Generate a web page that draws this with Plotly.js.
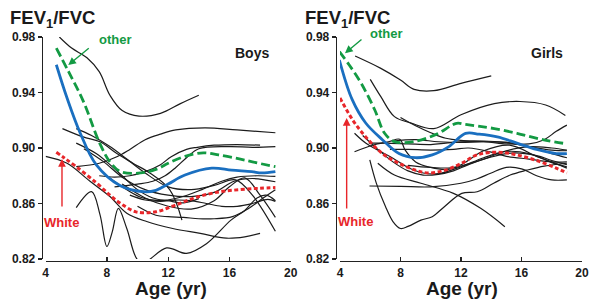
<!DOCTYPE html>
<html><head><meta charset="utf-8">
<script src="https://cdn.plot.ly/plotly-3.0.1.min.js"></script>
<style>html,body{margin:0;padding:0;background:#fff}#chart{width:591px;height:302px}</style>
</head><body><div id="chart"></div>
<script>
// ---------- Boys ----------
const boysBlueAge = [4.7,5.4,6.25,7.3,8.85,10.4,11.2,12,13.1,14.85,16.15,17.45,18.1,19];
const boysBlueVal = [0.960,0.936,0.911,0.888,0.873,0.8685,0.8695,0.874,0.8805,0.8855,0.884,0.883,0.882,0.883];
const boysGreenAge = [4.7,5.5,6.45,7.55,8.2,8.9,10.2,11.3,12,13.1,14.3,15.3,16.5,17.5,19];
const boysGreenVal = [0.972,0.955,0.934,0.903,0.890,0.883,0.882,0.885,0.889,0.894,0.8965,0.895,0.8925,0.890,0.8865];
const boysRedAge = [4.7,5.2,6,7.3,8.2,8.9,9.9,11.2,12.5,14,15.4,16.7,18,19];
const boysRedVal = [0.897,0.893,0.8865,0.875,0.866,0.860,0.854,0.854,0.859,0.865,0.8685,0.870,0.871,0.8715];

const boysB1Age = [4.9,5.7,6.7,7.5,8.2,9.0,10.1,11.5,12.8,14.0];
const boysB1Val = [0.980,0.972,0.965,0.955,0.938,0.927,0.923,0.925,0.932,0.938];
const boysB2Age = [6.0,7.5,8.65,9.5,10.5,11.5,12.5,14.4,16.5,19];
const boysB2Val = [0.8866,0.889,0.8937,0.899,0.906,0.910,0.913,0.9145,0.913,0.911];
const boysB3Age = [5.1,6.45,7.55,8.65,9.7,10.8,12.1,12.9];
const boysB3Val = [0.914,0.908,0.9045,0.896,0.889,0.882,0.870,0.848];
const boysB4Age = [6.0,7.0,8.2,9.3,10.5,12.0,13.5,15.0,16.4,17.5,19];
const boysB4Val = [0.914,0.909,0.901,0.892,0.882,0.872,0.870,0.873,0.877,0.866,0.840];
const boysB5Age = [4.0,5.4,6.9,8.2,9.3,10.6,12.3,14.1,15.8,17,18];
const boysB5Val = [0.894,0.889,0.876,0.865,0.853,0.847,0.842,0.8385,0.835,0.836,0.8385];
const boysB6Age = [6.0,7.0,7.55,8.0,8.35,8.75,9.3,10.0,10.5,11.9,13.2,14.5,16.1,17.0,17.8,18.4,19];
const boysB6Val = [0.857,0.8685,0.852,0.829,0.8395,0.8565,0.842,0.8195,0.818,0.828,0.824,0.831,0.848,0.855,0.864,0.866,0.862];
const boysB7Age = [7.5,8.5,9.5,10.5,11.5,12.2,13.2,13.9,15,16.5,18];
const boysB7Val = [0.880,0.879,0.880,0.883,0.888,0.8937,0.899,0.9005,0.902,0.9025,0.902];
const boysB8Age = [8.5,10,11,11.8,12.5,13.2,14,16,17.5,19];
const boysB8Val = [0.872,0.874,0.876,0.880,0.886,0.893,0.8995,0.901,0.9005,0.901];
const boysB9Age = [8.0,9.0,10.2,11.5,12.8,14.2,15.5,16.5,17.8,19];
const boysB9Val = [0.880,0.872,0.8645,0.862,0.8645,0.870,0.876,0.879,0.880,0.8795];
const boysB10Age = [6.5,7.8,9.0,10.5,12.0,13.5,15.0,16.3,17.5,19];
const boysB10Val = [0.8995,0.890,0.879,0.870,0.866,0.865,0.868,0.876,0.878,0.8757];
const boysB11Age = [9.5,10.5,11.5,12.5,13.5,14.5,15.5,16.5,17.5,18.5,19];
const boysB11Val = [0.866,0.8625,0.8615,0.8625,0.862,0.860,0.858,0.858,0.860,0.863,0.8615];
const boysB12Age = [9.0,10.5,12.0,13.5,15.0,16.0,17.0,18.0,19];
const boysB12Val = [0.874,0.864,0.858,0.856,0.862,0.872,0.8785,0.866,0.850];
const boysB13Age = [10.0,11.2,12.0,13.0,14.0,15.0,16.2,17.2,18.2,19];
const boysB13Val = [0.858,0.8515,0.8505,0.850,0.849,0.849,0.8505,0.856,0.864,0.870];
const boysB14Age = [6.0,7.3,8.2,9.0,10.0,11.0,12.0,13.0,14.0];
const boysB14Val = [0.9035,0.896,0.888,0.880,0.870,0.864,0.862,0.8605,0.8635];

// ---------- Girls ----------
const girlsBlueAge = [3.96,4.8,5.7,6.8,7.9,9.0,10.1,11.2,12.3,13.2,14.4,15.7,17,18.3,19];
const girlsBlueVal = [0.9634,0.935,0.918,0.906,0.896,0.893,0.895,0.901,0.9105,0.910,0.908,0.9035,0.899,0.896,0.896];
const girlsGreenAge = [3.96,4.6,5.4,6.3,6.95,7.6,8.9,10.4,11.7,12.3,13.1,14.2,15.7,17.4,19];
const girlsGreenVal = [0.9694,0.960,0.9466,0.9274,0.9106,0.9046,0.9046,0.910,0.9178,0.917,0.9158,0.914,0.9106,0.906,0.903];
const girlsRedAge = [4.0,4.85,5.7,6.8,7.9,9.0,9.85,10.95,12.05,13.05,14.4,15.7,17,18.3,19];
const girlsRedVal = [0.936,0.920,0.908,0.896,0.889,0.884,0.882,0.884,0.889,0.895,0.897,0.895,0.891,0.8855,0.882];

const girlsG1Age = [5.0,6.7,8.0,8.9,10.2,12,14];
const girlsG1Val = [0.9663,0.9574,0.949,0.9423,0.9413,0.9466,0.952];
const girlsG2Age = [6,6.7,7.6,8.7,10.2,12,14.2,15.9,17.6,18.9];
const girlsG2Val = [0.9495,0.937,0.9226,0.918,0.914,0.924,0.932,0.9335,0.931,0.9235];
const girlsG3Age = [8.0,9.0,10.0,11.0,12.0,13.5,15,16.5,18,19];
const girlsG3Val = [0.922,0.916,0.911,0.907,0.9055,0.905,0.904,0.901,0.8985,0.898];
const girlsG4Age = [7.5,9,10.5,12,13.5,15,16.5,17.5,18.3,19];
const girlsG4Val = [0.905,0.906,0.9045,0.904,0.9045,0.903,0.903,0.906,0.912,0.9165];
const girlsG5Age = [4.96,5.72,7.5,8.5,9.5,10.5,12,13.5,15,16.5,18,19];
const girlsG5Val = [0.9106,0.9034,0.8926,0.886,0.882,0.8815,0.8865,0.893,0.8975,0.896,0.8895,0.8865];
const girlsG6Age = [4.96,6.16,7.26,7.95,8.3,9.0,10,11,12,13.5,15,16.5,18,19];
const girlsG6Val = [0.8973,0.902,0.9046,0.9063,0.8986,0.890,0.886,0.8845,0.887,0.892,0.898,0.901,0.900,0.8985];
const girlsG7Age = [5.9,7,8.5,10,11,12,13.5,15,16.5,18,19];
const girlsG7Val = [0.9035,0.9035,0.903,0.9025,0.9035,0.9045,0.9045,0.904,0.901,0.896,0.893];
const girlsG8Age = [7.3,8.5,10,11.5,12.5,14,15,16.5,18,19];
const girlsG8Val = [0.899,0.899,0.8985,0.899,0.900,0.897,0.894,0.892,0.890,0.890];
const girlsG9Age = [5.97,6.4,7.0,7.5,8.0,8.5,9.35,10.1,10.9,12.05,13.07,14.16,15.25,16.35,17.5,19];
const girlsG9Val = [0.8914,0.8747,0.858,0.847,0.842,0.8435,0.848,0.8505,0.8577,0.8673,0.8685,0.8746,0.8805,0.884,0.887,0.889];
const girlsG10Age = [6.5,7.6,9.35,11.5,13.3,14.9];
const girlsG10Val = [0.889,0.8805,0.8746,0.8673,0.8565,0.8433];
const girlsG11Age = [5.95,8,10,12,13,14,15,16,17,18,19];
const girlsG11Val = [0.8726,0.8724,0.872,0.8746,0.8775,0.882,0.886,0.885,0.880,0.877,0.877];
const girlsG12Age = [5.5,6.5,7.5,8.5,9.5,10.5,11.5,12.5,14,15.5,17,18,19];
const girlsG12Val = [0.909,0.899,0.890,0.8835,0.8805,0.881,0.8835,0.888,0.8935,0.8965,0.8945,0.891,0.888];
const girlsG13Age = [8.5,10,11.7,13.5,15.2,17,18,19];
const girlsG13Val = [0.8875,0.886,0.8865,0.898,0.902,0.894,0.890,0.8855];

const yTicks = [0.82,0.86,0.90,0.94,0.98];
const yTickText = ['0.82','0.86','0.90','0.94','0.98'];
const xTicks = [4,8,12,16,20];

const BLACK = '#1c1c1c', BLUE = '#1a6fc0', GREEN = '#139a43', RED = '#e8262a';

const boysBlack = [[boysB1Age,boysB1Val],[boysB2Age,boysB2Val],[boysB3Age,boysB3Val],[boysB4Age,boysB4Val],
  [boysB5Age,boysB5Val],[boysB6Age,boysB6Val],[boysB7Age,boysB7Val],[boysB8Age,boysB8Val],[boysB9Age,boysB9Val],
  [boysB10Age,boysB10Val],[boysB11Age,boysB11Val],[boysB12Age,boysB12Val],[boysB13Age,boysB13Val],[boysB14Age,boysB14Val]];
const girlsBlack = [[girlsG1Age,girlsG1Val],[girlsG2Age,girlsG2Val],[girlsG3Age,girlsG3Val],[girlsG4Age,girlsG4Val],
  [girlsG5Age,girlsG5Val],[girlsG6Age,girlsG6Val],[girlsG7Age,girlsG7Val],[girlsG8Age,girlsG8Val],[girlsG9Age,girlsG9Val],
  [girlsG10Age,girlsG10Val],[girlsG11Age,girlsG11Val],[girlsG12Age,girlsG12Val],[girlsG13Age,girlsG13Val]];

const traces = [];
function add(x,y,xa,ya,line){traces.push({x:x,y:y,xaxis:xa,yaxis:ya,mode:'lines',type:'scatter',
  line:Object.assign({shape:'spline',smoothing:1},line),hoverinfo:'skip',showlegend:false,cliponaxis:true});}
boysBlack.forEach(d=>add(d[0],d[1],'x','y',{color:BLACK,width:1.2}));
girlsBlack.forEach(d=>add(d[0],d[1],'x2','y2',{color:BLACK,width:1.2}));
add(boysRedAge,boysRedVal,'x','y',{color:RED,width:3,dash:'4px,2.5px'});
add(boysGreenAge,boysGreenVal,'x','y',{color:GREEN,width:2.8,dash:'9px,4px'});
add(boysBlueAge,boysBlueVal,'x','y',{color:BLUE,width:2.8});
add(girlsRedAge,girlsRedVal,'x2','y2',{color:RED,width:3,dash:'4px,2.5px'});
add(girlsGreenAge,girlsGreenVal,'x2','y2',{color:GREEN,width:2.8,dash:'9px,4px'});
add(girlsBlueAge,girlsBlueVal,'x2','y2',{color:BLUE,width:2.8});

const W=591,H=302;
const tickFont = {family:'Liberation Sans, Arial, sans-serif',size:12,color:'#1a1a1a',weight:'bold'};
function xax(d0,d1){return {domain:[d0/W,d1/W],range:[4,20],tickvals:xTicks,ticks:'inside',ticklen:4,tickwidth:1.3,
  tickcolor:'#222',showline:true,linecolor:'#222',linewidth:1.6,showgrid:false,zeroline:false,tickfont:tickFont,
  anchor:'free',position:(H-260.5)/H,fixedrange:true};}
function yax(pos){return {domain:[(H-259)/H,(H-37)/H],range:[0.82,0.98],tickvals:yTicks,ticktext:yTickText,ticks:'outside',
  ticklen:4,tickwidth:1.3,tickcolor:'#222',showline:true,linecolor:'#222',linewidth:1.6,showgrid:false,zeroline:false,
  tickfont:tickFont,anchor:'free',position:pos/W,fixedrange:true};}

const bold = (s,c)=>({family:'Liberation Sans, Arial, sans-serif',size:s,color:c||'#1a1a1a',weight:'bold'});
function txt(x,y,t,s,c,xa){return {xref:'paper',yref:'paper',x:x/W,y:(H-y)/H,text:t,showarrow:false,
  xanchor:xa||'center',yanchor:'middle',font:bold(s,c)};}
function arrow(xr,yr,x,y,ax,ay,c){return {xref:xr,yref:yr,x:x,y:y,ax:ax,ay:ay,text:'',showarrow:true,
  arrowhead:2,arrowsize:1.1,arrowwidth:1.4,arrowcolor:c};}

const annotations = [
  txt(8,19,'FEV<sub>1</sub>/FVC',18.5,null,'left'),
  txt(303,19,'FEV<sub>1</sub>/FVC',18.5,null,'left'),
  txt(252,53,'Boys',14),
  txt(547,53,'Girls',14),
  txt(171,288,'Age (yr)',19),
  txt(462,288,'Age (yr)',19),
  txt(116,39,'other',13,GREEN),
  txt(386,33,'other',13,GREEN),
  txt(61,222,'White',13,RED),
  txt(355,221,'White',13,RED),
  arrow('x','y',5.48,0.9598,22,-18,GREEN),
  arrow('x','y',5.07,0.8921,0,49,RED),
  arrow('x2','y2',4.33,0.9683,18,-15,GREEN),
  arrow('x2','y2',4.44,0.9216,0,92,RED)
];

const layout = {width:W,height:H,margin:{l:0,r:0,t:0,b:0},paper_bgcolor:'#fff',plot_bgcolor:'rgba(0,0,0,0)',
  showlegend:false,xaxis:xax(45.6,290.7),yaxis:yax(41.7),xaxis2:xax(340,582),yaxis2:yax(335.7),annotations:annotations};
Plotly.newPlot('chart',traces,layout,{staticPlot:true,displayModeBar:false});
</script></body></html>
